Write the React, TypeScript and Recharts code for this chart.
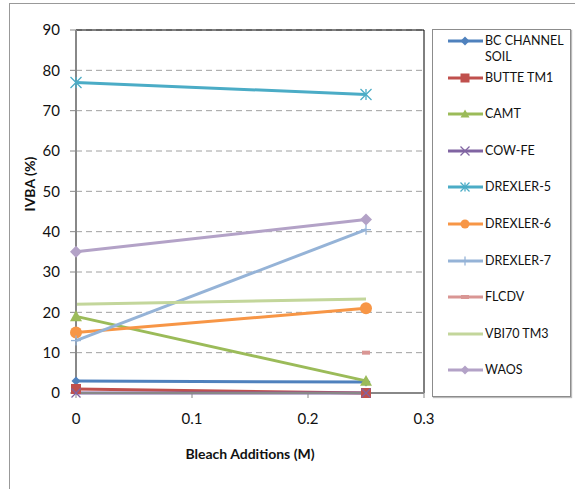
import React from 'react';
import { LineChart, Line, XAxis, YAxis, CartesianGrid, ReferenceLine } from 'recharts';

// bleach additions (M)
const xVals = [0, 0.25];

// IVBA (%) per soil
const bcChannelSoil = [3, 2.7];
const butteTm1 = [1, 0];
const camt = [19, 3];
const cowFe = [0, 0];
const drexler5 = [77, 74];
const drexler6 = [15, 21];
const drexler7 = [13, 40.5];
const flcdv = [null, 10];
const vbi70Tm3 = [22, 23.3];
const waos = [35, 43];

const xTicks = [0, 0.1, 0.2, 0.3];
const yTicks = [0, 10, 20, 30, 40, 50, 60, 70, 80, 90];

const series = [
  { key: 'bc', name: 'BC CHANNEL SOIL', vals: bcChannelSoil, color: '#4F81BD', shape: 'diamond', size: 9 },
  { key: 'butte', name: 'BUTTE TM1', vals: butteTm1, color: '#C0504D', shape: 'square', size: 10 },
  { key: 'camt', name: 'CAMT', vals: camt, color: '#9BBB59', shape: 'triangle', size: 12 },
  { key: 'cow', name: 'COW-FE', vals: cowFe, color: '#8064A2', shape: 'x', size: 9 },
  { key: 'd5', name: 'DREXLER-5', vals: drexler5, color: '#4BACC6', shape: 'star', size: 11 },
  { key: 'd6', name: 'DREXLER-6', vals: drexler6, color: '#F79646', shape: 'circle', size: 12 },
  { key: 'd7', name: 'DREXLER-7', vals: drexler7, color: '#95B3D7', shape: 'plus', size: 10 },
  { key: 'flcdv', name: 'FLCDV', vals: flcdv, color: '#D99694', shape: 'dash', size: 8 },
  { key: 'vbi', name: 'VBI70 TM3', vals: vbi70Tm3, color: '#C3D69B', shape: 'none', size: 0 },
  { key: 'waos', name: 'WAOS', vals: waos, color: '#B3A2C7', shape: 'diamond', size: 12 },
];

const data = xVals.map((x, i) => {
  const row: any = { x };
  series.forEach((s) => { row[s.key] = s.vals[i]; });
  return row;
});

const FONT = 'Lato, "Open Sans", sans-serif';

function Marker({ shape, color, size, cx, cy }: any) {
  const h = size / 2;
  switch (shape) {
    case 'diamond':
      return <polygon points={`${cx},${cy - h} ${cx + h},${cy} ${cx},${cy + h} ${cx - h},${cy}`} fill={color} />;
    case 'square':
      return <rect x={cx - h} y={cy - h} width={size} height={size} fill={color} />;
    case 'triangle':
      return <polygon points={`${cx},${cy - h} ${cx + h},${cy + h * 0.8} ${cx - h},${cy + h * 0.8}`} fill={color} />;
    case 'circle':
      return <circle cx={cx} cy={cy} r={h} fill={color} />;
    case 'x':
      return (
        <g stroke={color} strokeWidth={1.3}>
          <line x1={cx - h} y1={cy - h} x2={cx + h} y2={cy + h} />
          <line x1={cx - h} y1={cy + h} x2={cx + h} y2={cy - h} />
        </g>
      );
    case 'star':
      return (
        <g stroke={color} strokeWidth={1.3}>
          <line x1={cx - h} y1={cy - h} x2={cx + h} y2={cy + h} />
          <line x1={cx - h} y1={cy + h} x2={cx + h} y2={cy - h} />
          <line x1={cx} y1={cy - h} x2={cx} y2={cy + h} />
        </g>
      );
    case 'plus':
      return (
        <g stroke={color} strokeWidth={1.3}>
          <line x1={cx - h} y1={cy} x2={cx + h} y2={cy} />
          <line x1={cx} y1={cy - h} x2={cx} y2={cy + h} />
        </g>
      );
    case 'dash':
      return <rect x={cx - h} y={cy - 2} width={size} height={4} fill={color} />;
    default:
      return null;
  }
}

const makeDot = (s: any) => (props: any) => {
  const { cx, cy, value, index } = props;
  if (value == null || cx == null || cy == null) return <g key={`${s.key}-${index}`} />;
  return (
    <g key={`${s.key}-${index}`}>
      <Marker shape={s.shape} color={s.color} size={s.size} cx={cx} cy={cy} />
    </g>
  );
};

function LegendBox() {
  return (
    <div
      style={{
        position: 'absolute', left: 432, top: 29, width: 137, height: 366,
        border: '1px solid #8c8c8c', boxShadow: '1px 1px 1px #bbb', background: '#fff',
        fontFamily: FONT, fontSize: 12.5, color: '#111',
      }}
    >
      {series.map((s, i) => (
        <div key={s.key} style={{ position: 'absolute', left: 0, top: 4 + i * 36.6, width: 137 }}>
          <svg width={40} height={14} style={{ position: 'absolute', left: 14, top: 0 }}>
            <line x1={1} y1={7} x2={36} y2={7} stroke={s.color} strokeWidth={3} />
            <Marker shape={s.shape} color={s.color} size={Math.min(s.size, 9)} cx={18} cy={7} />
          </svg>
          <div style={{ position: 'absolute', left: 52, top: -1, width: 82, lineHeight: '16px' }}>{s.name}</div>
        </div>
      ))}
    </div>
  );
}

export default function App() {
  return (
    <div style={{ position: 'absolute', left: 0, top: 0, width: 575, height: 489, overflow: 'hidden', background: '#fff' }}>
      <div style={{ position: 'absolute', left: 9, top: 3, width: 600, height: 600, border: '1px solid #999' }} />
      <div style={{ position: 'absolute', left: 0, top: 0 }}>
        <LineChart width={575} height={489} data={data} margin={{ top: 30, right: 151, bottom: 0, left: 0 }}>
          <CartesianGrid vertical={false} stroke="#a0a0a0" strokeDasharray="6 4" />
          <XAxis
            dataKey="x"
            type="number"
            domain={[0, 0.3]}
            ticks={xTicks}
            height={96}
            axisLine={{ stroke: '#888', strokeWidth: 2 }}
            tickLine={{ stroke: '#888' }}
            tickSize={5}
            tickMargin={15}
            tick={{ fill: '#111', fontSize: 15, fontFamily: FONT }}
            label={{ value: 'Bleach Additions (M)', position: 'insideBottom', offset: 30, fill: '#111', fontSize: 14, fontWeight: 'bold', fontFamily: FONT }}
          />
          <YAxis
            type="number"
            domain={[0, 90]}
            ticks={yTicks}
            width={76}
            axisLine={{ stroke: '#888', strokeWidth: 2 }}
            tickLine={{ stroke: '#888' }}
            tickSize={6}
            tickMargin={10}
            tick={{ fill: '#111', fontSize: 15, fontFamily: FONT }}
            label={{ value: 'IVBA (%)', angle: -90, position: 'insideLeft', offset: 30, fill: '#111', fontSize: 14, fontWeight: 'bold', fontFamily: FONT }}
          />
          <ReferenceLine y={90} stroke="#000" strokeWidth={1} />
          <ReferenceLine x={0.3} stroke="#000" strokeWidth={1} />
          {series.map((s) => (
            <Line
              key={s.key}
              dataKey={s.key}
              name={s.name}
              stroke={s.color}
              strokeWidth={3}
              dot={makeDot(s)}
              activeDot={false}
              isAnimationActive={false}
              connectNulls={false}
            />
          ))}
        </LineChart>
      </div>
      <LegendBox />
    </div>
  );
}
